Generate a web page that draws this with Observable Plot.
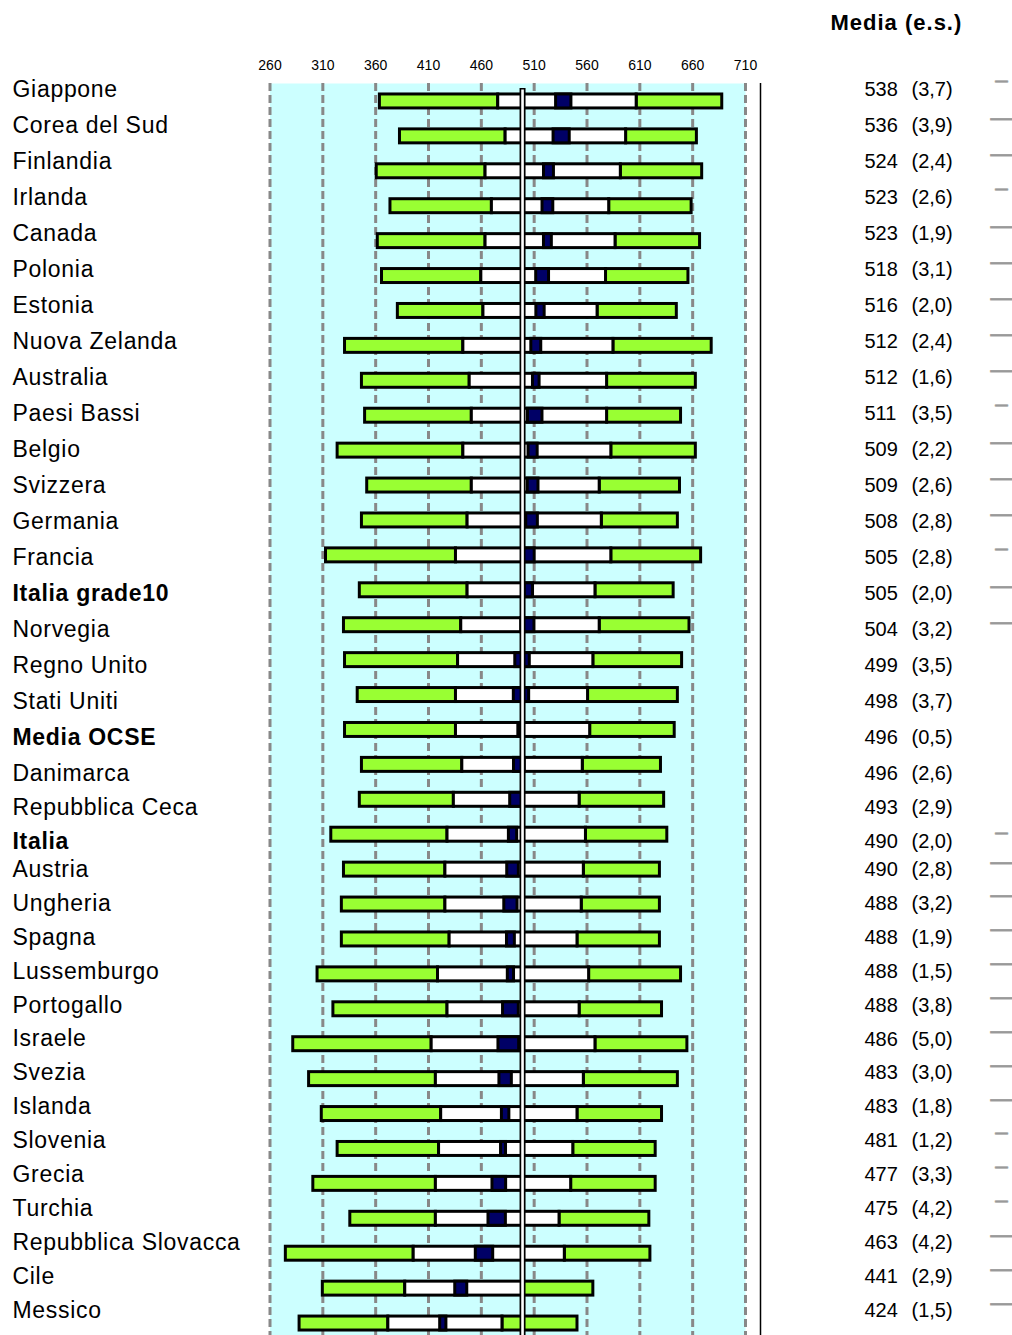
<!DOCTYPE html>
<html><head><meta charset="utf-8">
<script src="https://cdn.jsdelivr.net/npm/d3@7"></script>
<script src="https://cdn.jsdelivr.net/npm/@observablehq/plot@0.6"></script>
<style>
body{margin:0;background:#fff;}
#wrap{position:relative;width:1012px;height:1335px;overflow:hidden;}
#wrap svg{position:absolute;left:0;top:0;}
</style></head><body><div id="wrap"></div>
<script>
const countries = ["Giappone","Corea del Sud","Finlandia","Irlanda","Canada","Polonia","Estonia","Nuova Zelanda","Australia","Paesi Bassi","Belgio","Svizzera","Germania","Francia","Italia grade10","Norvegia","Regno Unito","Stati Uniti","Media OCSE","Danimarca","Repubblica Ceca","Italia","Austria","Ungheria","Spagna","Lussemburgo","Portogallo","Israele","Svezia","Islanda","Slovenia","Grecia","Turchia","Repubblica Slovacca","Cile","Messico"];
const boldLabels = ["Italia grade10","Media OCSE","Italia"];
const mean = [538,536,524,523,523,518,516,512,512,511,509,509,508,505,505,504,499,498,496,496,493,490,490,488,488,488,488,486,483,483,481,477,475,463,441,424];
const se = [3.7,3.9,2.4,2.6,1.9,3.1,2.0,2.4,1.6,3.5,2.2,2.6,2.8,2.8,2.0,3.2,3.5,3.7,0.5,2.6,2.9,2.0,2.8,3.2,1.9,1.5,3.8,5.0,3.0,1.8,1.2,3.3,4.2,4.2,2.9,1.5];
const p5  = [364,383,361,374,362,366,381,331,347,350,324,352,347,313,345,330,331,343,331,347,345,318,330,328,328,305,320,282,297,309,324,301,336,275,310,288];
const p25 = [476,483,464,470,464,460,462,443,449,451,443,451,447,436,447,441,438,436,436,442,434,428,426,426,430,419,428,413,417,422,420,417,417,396,388,372];
const p75 = [607,597,592,581,587,578,570,585,579,579,583,572,574,583,568,572,566,561,563,556,553,559,557,555,551,562,553,568,557,551,547,545,534,539,499,480];
const p95 = [688,664,669,659,667,656,645,678,663,649,663,648,646,668,642,657,650,646,643,630,633,636,629,629,629,649,631,655,646,631,625,625,619,620,566,551];
// small grey markers at far right: 0 none, 1 short, 2 long
const sig = [1,2,2,1,2,2,2,2,2,1,2,2,2,1,2,2,0,0,0,0,0,1,2,2,2,2,2,2,2,2,1,1,1,2,2,2];
const xTicks = [260,310,360,410,460,510,560,610,660,710];
const refLine = 499;
const header = "Media (e.s.)";

const rows = countries.map((c, i) => ({
  country: c, row: i, mean: mean[i], se: se[i],
  p5: p5[i], p25: p25[i], p75: p75[i], p95: p95[i],
  lo: mean[i] - 1.96 * se[i], hi: mean[i] + 1.96 * se[i],
  sig: sig[i], bold: boldLabels.includes(c)
}));

const FONT = "'Liberation Sans', Arial, Helvetica, sans-serif";
const GREEN = "#99ff33", NAVY = "#000066", CYAN = "#ccffff", GRID = "#888888";
const bar = {y: "country", stroke: "black", strokeWidth: 3};

const chart = Plot.plot({
  width: 1012, height: 1335,
  marginTop: 83, marginBottom: 0, marginLeft: 269.5, marginRight: 267,
  style: {fontFamily: FONT, fontSize: "14px", color: "black", background: "white"},
  x: {domain: [260, 710], axis: "top", ticks: xTicks, tickSize: 0, tickPadding: 14, label: null, tickFormat: d => String(d)},
  y: {type: "band", domain: countries, range: [83.5, 1340.5], paddingInner: 0.6, paddingOuter: 0.3, axis: null},
  marks: [
    Plot.frame({fill: CYAN, stroke: "none"}),
    Plot.ruleX(xTicks, {stroke: GRID, strokeWidth: 3, strokeDasharray: "8,4"}),
    Plot.ruleX([d3.max(xTicks)], {dx: 15, stroke: "black", strokeWidth: 1.5}),
    Plot.barX(rows, {x1: "p5", x2: "p25", fill: GREEN, ...bar}),
    Plot.barX(rows, {x1: "p75", x2: "p95", fill: GREEN, ...bar}),
    Plot.barX(rows, {x1: "p25", x2: "p75", fill: "white", ...bar}),
    Plot.barX(rows, {x1: "lo", x2: "hi", fill: NAVY, ...bar}),
    Plot.ruleX([refLine], {stroke: "black", strokeWidth: 6, insetTop: 5}),
    Plot.ruleX([refLine], {stroke: "white", strokeWidth: 2.6, insetTop: 6.5})
  ]
});

const labels = Plot.plot({
  width: 1012, height: 1335, margin: 0,
  style: {fontFamily: FONT, color: "black", background: "transparent", overflow: "visible"},
  y: {type: "linear", domain: [0, 19, 21, 22, 35], range: [89, 773, 841, 869, 1310], axis: null},
  marks: [
    Plot.text(rows.filter(d => !d.bold), {y: "row", text: "country", frameAnchor: "left", textAnchor: "start", dx: 12, fontSize: 23}),
    Plot.text(rows.filter(d => d.bold), {y: "row", text: "country", frameAnchor: "left", textAnchor: "start", dx: 12, fontSize: 23, fontWeight: "bold"}),
    Plot.text(rows, {y: "row", text: d => String(d.mean), frameAnchor: "left", textAnchor: "start", dx: 864, fontSize: 20}),
    Plot.text(rows, {y: "row", text: d => "(" + d.se.toFixed(1).replace(".", ",") + ")", frameAnchor: "left", textAnchor: "start", dx: 911, fontSize: 20}),
    Plot.text(rows.filter(d => d.sig === 2), {y: "row", text: () => "\u2014", frameAnchor: "left", textAnchor: "middle", dx: 1001, dy: -8, fontSize: 22, fill: "#999", stroke: "#aaa", strokeWidth: 1}),
    Plot.text(rows.filter(d => d.sig === 1), {y: "row", text: () => "\u2014", frameAnchor: "left", textAnchor: "middle", dx: 1001, dy: -8, fontSize: 12, fill: "#999", stroke: "#aaa", strokeWidth: 1.5}),
    Plot.text([header], {text: d => d, frameAnchor: "top-left", lineAnchor: "middle", dx: 830, dy: 22, textAnchor: "start", fontWeight: "bold", fontSize: 22})
  ]
});

const countrySet = new Set(countries);
d3.select(labels).selectAll("text").filter(function() { return countrySet.has(this.textContent); })
  .style("letter-spacing", "0.7px");
d3.select(labels).selectAll("text").filter(function() { return this.textContent === header; })
  .style("letter-spacing", "1px");

const wrap = document.getElementById("wrap");
wrap.appendChild(chart);
wrap.appendChild(labels);
</script></body></html>
